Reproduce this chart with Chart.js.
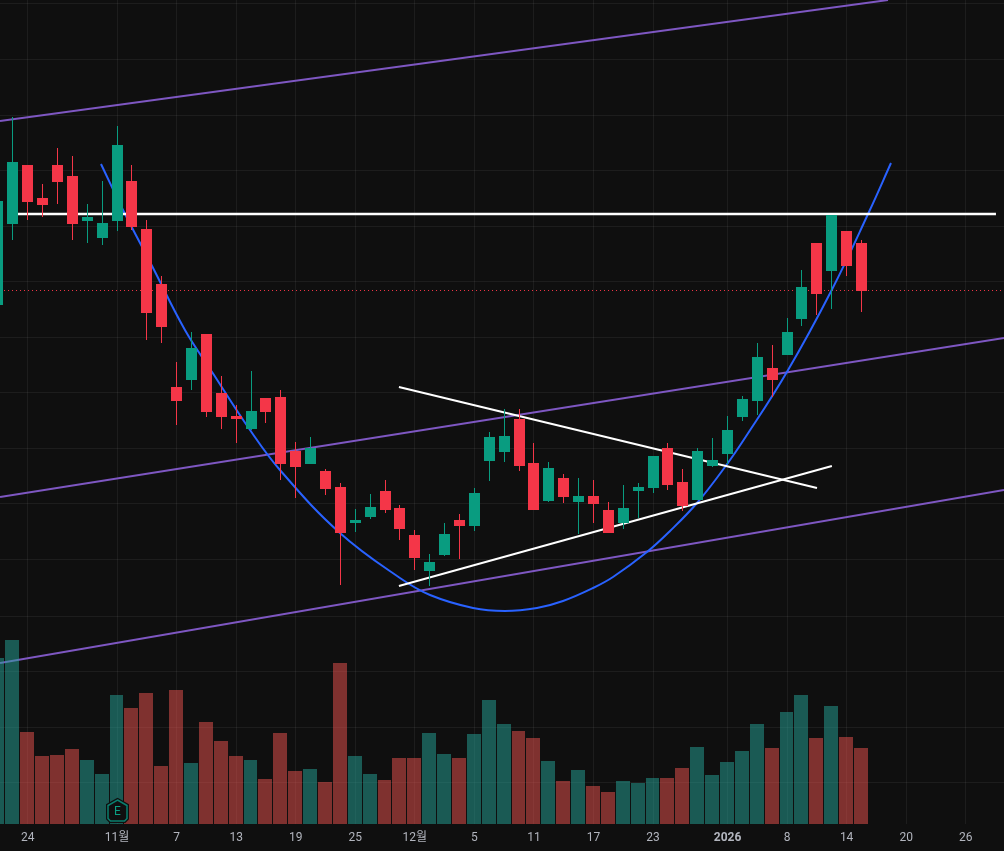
<!DOCTYPE html>
<html>
<head>
<meta charset="utf-8">
<title>Chart</title>
<script src="https://cdn.jsdelivr.net/npm/chart.js@4"></script>
<style>
  html, body { margin: 0; padding: 0; background: #0f0f0f; overflow: hidden; }
  canvas { display: block; }
</style>
</head>
<body>
<canvas id="priceChart" width="1004" height="851"></canvas>
<script>
// one row per session, prices have no printed axis so they are read on a relative scale
const sessions = [0,1,2,3,4,5,6,7,8,9,10,11,12,13,14,15,16,17,18,19,20,21,22,23,24,25,26,27,28,29,30,31,32,33,34,35,36,37,38,39,40,41,42,43,44,45,46,47,48,49,50,51,52,53,54,55,56,57,58];
const opens =  [695,776,835,802,835,824,779,762,779,819,771,716,613,620,666,607,584,571,602,603,549,536,529,513,477,483,509,492,465,429,445,480,474,539,548,581,537,499,522,498,504,490,477,509,512,552,518,500,534,546,583,599,632,645,681,757,729,769,757];
const highs =  [810,883,835,816,852,844,796,819,874,835,780,724,638,668,666,624,595,629,602,610,558,563,531,517,491,506,520,495,470,446,477,486,512,568,591,591,557,538,526,522,520,498,515,517,544,557,531,552,562,584,604,657,655,682,730,757,785,769,760];
const lows =   [688,760,780,783,796,760,757,755,769,770,660,657,575,610,583,571,557,570,577,520,502,536,505,415,468,481,487,460,430,414,444,441,469,519,538,529,490,498,497,466,477,467,471,482,507,510,489,500,533,536,579,585,603,645,674,685,691,724,688];
const closes = [799,838,798,795,818,776,783,777,855,773,687,673,599,652,588,583,581,589,588,536,533,552,511,467,480,493,490,471,442,438,466,474,507,563,564,534,490,532,503,504,496,467,492,513,544,515,494,549,540,570,601,643,620,668,713,706,785,734,709];
const volumes = [166,184,92,68,69,75,64,50,129,116,131,58,134,61,102,83,68,64,45,91,53,55,42,161,68,50,44,66,66,91,70,66,90,124,100,93,86,63,43,54,38,32,43,41,46,46,56,77,49,62,73,100,76,112,129,86,118,87,76];

const tickSessions = [2,8,12,16,20,24,28,32,36,40,44,49,53,57,61,65];
const tickLabels = ['24','11월','7','13','19','25','12월','5','11','17','23','2026','8','14','20','26'];
const priceGrid = [997,941,885,830,774,719,663,607,552,496,440,384,329,273,218];
const earningsSessions = [8];

const lastPrice = 709.5;

// drawings
const channelTopX = [0.14,59.78];
const channelTopY = [879,1000];
const channelMidX = [0.14,67.57];
const channelMidY = [503,662];
const channelLowX = [0.14,67.57];
const channelLowY = [337,510];
const resistanceX = [0.94,67.03];
const resistanceY = [786,786];
const wedgeUpperX = [26.93,55.01];
const wedgeUpperY = [613,512];
const wedgeLowerX = [26.93,56.01];
const wedgeLowerY = [414,534];
const cupX = [6.92,8.4,10.35,12.56,14.38,16.93,18.94,22.97,27,29.02,31.91,34.05,36.2,37.95,39.97,41.31,43.59,45.14,46.95,48.83,50.17,52.99,56,58.5,59.98];
const cupY = [836,790,734,670,628,570,530,467,422,405,392,389,392,399,412,423,448,469,497,533,562,628,710,788,837];

const GREEN = '#099c80';
const RED = '#f43648';
const isUp = sessions.map(i => closes[i] >= opens[i]);
const candleColors = isUp.map(u => u ? GREEN : RED);
const volumeColors = isUp.map(u => u ? 'rgba(38,166,154,0.5)' : 'rgba(239,83,80,0.5)');

function pairs(xs, ys) {
  return xs.map((x, i) => ({ x: x, y: ys[i] }));
}

function drawing(xs, ys, color, width, order) {
  return {
    type: 'line', data: pairs(xs, ys), borderColor: color, borderWidth: width,
    pointRadius: 0, fill: false, yAxisID: 'y', order: order
  };
}

// keep candles on whole pixels, the time scale step is fractional
const snapBars = {
  id: 'snapBars',
  beforeDatasetsDraw(chart) {
    chart.data.datasets.forEach((ds, i) => {
      if (ds.type !== 'bar') return;
      const bars = chart.getDatasetMeta(i).data;
      const xs = bars.map(el => Math.floor(el.x));
      bars.forEach((el, k) => {
        if (ds.barThickness % 2) {
          el.x = xs[k] + 0.5;
        } else if (k < bars.length - 1 && xs[k + 1] - xs[k] < 15) {
          // short step, narrow the volume bar so a gap stays
          el.x = xs[k] - 0.5;
          el.width = 13;
        } else {
          el.x = xs[k];
        }
      });
    });
  }
};

// earnings marker sitting on the time axis
const earningsMarks = {
  id: 'earningsMarks',
  afterDatasetsDraw(chart) {
    const c = chart.ctx;
    const bottom = chart.chartArea.bottom;
    earningsSessions.forEach(s => {
      const x = Math.floor(chart.scales.x.getPixelForValue(s)) + 0.5;
      c.save();
      c.beginPath();
      c.moveTo(x, bottom - 24);
      c.lineTo(x + 9.5, bottom - 18.5);
      c.lineTo(x + 9.5, bottom - 5.5);
      c.lineTo(x + 7, bottom - 3);
      c.lineTo(x - 7, bottom - 3);
      c.lineTo(x - 9.5, bottom - 5.5);
      c.lineTo(x - 9.5, bottom - 18.5);
      c.closePath();
      c.fillStyle = '#0f0f0f';
      c.strokeStyle = '#0f0f0f';
      c.lineWidth = 4;
      c.stroke();
      c.fill();
      c.strokeStyle = '#0a7f6e';
      c.lineWidth = 1.5;
      c.stroke();
      c.fillStyle = '#0a9e82';
      c.font = '12px Roboto';
      c.textAlign = 'center';
      c.textBaseline = 'middle';
      c.fillText('E', x, bottom - 12);
      c.restore();
    });
  }
};

new Chart(document.getElementById('priceChart'), {
  type: 'bar',
  data: {
    datasets: [
      {
        type: 'bar', data: sessions.map(i => ({ x: i, y: [opens[i], closes[i]] })),
        backgroundColor: candleColors, barThickness: 11, grouped: false,
        inflateAmount: 0, borderSkipped: false, yAxisID: 'y', order: 0
      },
      {
        type: 'bar', data: sessions.map(i => ({ x: i, y: [lows[i], highs[i]] })),
        backgroundColor: candleColors, barThickness: 1, grouped: false,
        inflateAmount: 0, borderSkipped: false, yAxisID: 'y', order: 1
      },
      {
        type: 'bar', data: sessions.map(i => ({ x: i, y: volumes[i] })),
        backgroundColor: volumeColors, barThickness: 14, grouped: false,
        inflateAmount: 0, yAxisID: 'volume', order: 2
      },
      drawing(resistanceX, resistanceY, '#ffffff', 2.5, 3),
      drawing(wedgeUpperX, wedgeUpperY, '#ffffff', 2, 3),
      drawing(wedgeLowerX, wedgeLowerY, '#ffffff', 2, 3),
      Object.assign(drawing(cupX, cupY, '#2962ff', 2, 4), { tension: 0.4 }),
      drawing(channelTopX, channelTopY, '#7e57c2', 2, 5),
      drawing(channelMidX, channelMidY, '#7e57c2', 2, 5),
      drawing(channelLowX, channelLowY, '#7e57c2', 2, 5),
      Object.assign(drawing([0.14, 67.57], [lastPrice, lastPrice], RED, 1, 6), { borderDash: [1, 3] })
    ]
  },
  options: {
    responsive: false,
    animation: false,
    devicePixelRatio: 1,
    layout: { padding: 0 },
    plugins: { legend: { display: false }, tooltip: { enabled: false } },
    scales: {
      x: {
        type: 'linear', offset: false, min: 0.1377, max: 67.57,
        afterBuildTicks: scale => { scale.ticks = tickSessions.map(v => ({ value: v })); },
        afterFit: scale => { scale.height = 27; },
        grid: { offset: false, color: 'rgba(255,255,255,0.06)', tickLength: 0 },
        border: { display: false },
        ticks: {
          autoSkip: false, maxRotation: 0, padding: 7, color: '#b2b5be',
          callback: (value, i) => tickLabels[i],
          font: ctx => ({
            family: 'Roboto, "Noto Sans CJK KR"', size: 12,
            weight: ctx.tick && ctx.tick.value === 49 ? 'bold' : 'normal'
          })
        }
      },
      y: {
        min: 176, max: 1000,
        afterBuildTicks: scale => { scale.ticks = priceGrid.map(v => ({ value: v })); },
        afterFit: scale => { scale.width = 0; },
        grid: { color: 'rgba(255,255,255,0.06)', tickLength: 0 },
        border: { display: false },
        ticks: { display: false }
      },
      volume: {
        display: false, min: 0, max: 824
      }
    }
  },
  plugins: [snapBars, earningsMarks]
});
</script>
</body>
</html>
